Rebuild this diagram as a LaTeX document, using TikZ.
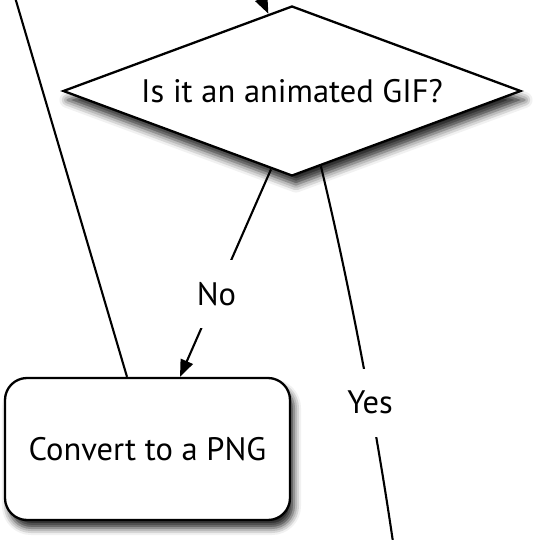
\documentclass[tikz,border=0pt]{standalone}
\usepackage{fontspec}
\setmainfont{PT Sans}
\usepackage{tikz}
\usetikzlibrary{shapes.geometric, shadows.blur, arrows.meta}

\begin{document}
\begin{tikzpicture}[x=1pt, y=-1pt, font=\fontsize{32.5}{38}\selectfont]
    \tikzstyle{decision} = [diamond, aspect=2.7, inner sep=0pt, minimum width=458pt, minimum height=170pt, text centered, draw=black, line width=2.3pt, fill=white, blur shadow={shadow xshift=4pt, shadow yshift=-9pt, shadow blur radius=8pt, shadow opacity=85}]
    \tikzstyle{process} = [rectangle, rounded corners=22pt, minimum width=285pt, minimum height=142pt, text centered, draw=black, line width=2.3pt, fill=white, blur shadow={shadow xshift=4pt, shadow yshift=-8pt, shadow blur radius=7pt, shadow opacity=85}]
    \tikzstyle{flow} = [line width=2.1pt, -{Triangle[length=17pt, width=13pt]}]
    \tikzstyle{answer} = [fill=white, inner sep=0pt, minimum width=50pt, minimum height=68pt]

    \useasboundingbox (0,0) rectangle (543,540);
    \clip (0,0) rectangle (543,540);

    % Steps
    \node [decision] (gif) at (292,91) {Is it an animated GIF?};
    \node [process] (png) at (147.5,449) {Convert to a PNG};

    % Ends outside the frame
    \coordinate (incoming) at (225,-80);
    \coordinate (loopback) at (4,-40);
    \coordinate (animated) at (401,600);

    % Connections
    \draw [flow] (incoming) -- (gif.107);
    \draw [flow] (gif.-105.5) -- node [answer, pos=0.6] {No} ([xshift=32.5pt]png.north);
    \draw [flow] ([xshift=-20.5pt]png.north) -- (loopback);
    \draw [flow] (gif.-69) .. controls (351,291) and (381,450) .. node [answer, pos=0.565] {Yes} (animated);
\end{tikzpicture}
\end{document}
